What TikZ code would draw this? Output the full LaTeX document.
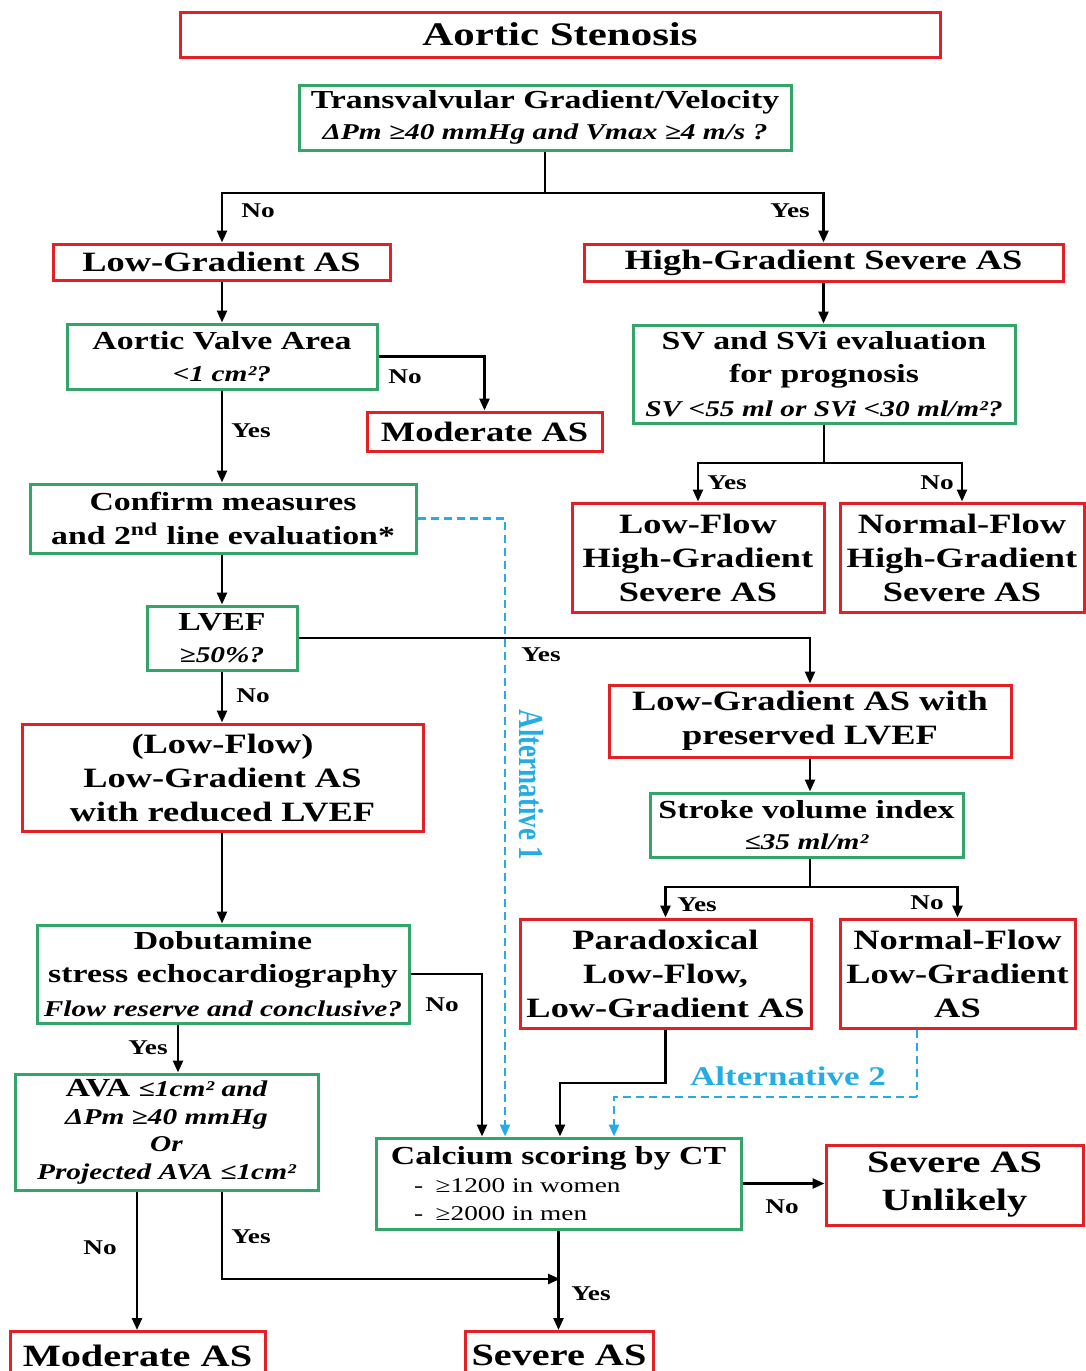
\documentclass[tikz,border=0pt]{standalone}
\usepackage{fontspec}
\setmainfont[FakeStretch=1.3]{Liberation Serif}
\newfontfamily\plainserif{Liberation Serif}
\usetikzlibrary{arrows.meta}
\definecolor{myred}{RGB}{228,32,38}
\definecolor{mygreen}{RGB}{52,165,105}
\definecolor{myblue}{RGB}{38,172,228}
\newcommand\titlef{\fontsize{16.5}{19}\selectfont\bfseries}
\newcommand\mainf{\fontsize{13}{16.8}\selectfont\bfseries}
\newcommand\redf{\fontsize{14}{17}\selectfont\bfseries}
\newcommand\bigf{\fontsize{15.5}{19}\selectfont\bfseries}
\newcommand\subf{\fontsize{11.3}{15}\selectfont\bfseries\itshape}
\newcommand\labf{\fontsize{10.5}{12}\selectfont\bfseries}
\newcommand\listf{\fontsize{10.5}{12.5}\selectfont\mdseries}
\tikzset{
  basebox/.style={draw, line width=1.5pt, align=center, inner sep=1pt, font=\mainf, text=black},
  rbox/.style={basebox, draw=myred, font=\redf},
  gbox/.style={basebox, draw=mygreen},
  ln/.style={line width=1.25pt, draw=black},
  arr/.style={ln, -{Triangle[length=6pt,width=5pt]}},
  altline/.style={line width=1.25pt, draw=myblue, dash pattern=on 4pt off 2.5pt},
  altarr/.style={altline, -{Triangle[length=6pt,width=5pt]}},
  lab/.style={font=\labf, inner sep=0pt},
  alttext/.style={font=\fontsize{13.5}{15}\selectfont\bfseries, text=myblue, inner sep=0pt}
}
\begin{document}
\begin{tikzpicture}[x=0.5pt,y=-0.5pt]
\useasboundingbox (0,0) rectangle (1086,1371);
\clip (0,0) rectangle (1086,1371);

% nodes
\node[rbox, minimum width=380pt, minimum height=22.5pt, font=\titlef] (title) at (560,34.5) {Aortic Stenosis};
\node[gbox, minimum width=246pt, minimum height=32.5pt] (tv) at (545,117.5) {Transvalvular Gradient/Velocity\\[-1pt]{\subf ΔPm ≥40 mmHg and Vmax ≥4 m/s ?}};
\node[rbox, minimum width=168.5pt, minimum height=18pt] (lg) at (221.5,262) {Low-Gradient AS};
\node[rbox, minimum width=239.5pt, minimum height=18.5pt] (hg) at (823.5,262.5) {High-Gradient Severe AS};
\node[gbox, minimum width=155pt, minimum height=32.5pt] (ava) at (222,356.5) {Aortic Valve Area\\[-1pt]{\subf <1 cm²?}};
\node[rbox, minimum width=117.5pt, minimum height=19.5pt] (mod1) at (484.5,431.5) {Moderate AS};
\node[gbox, minimum width=191pt, minimum height=49pt] (sv) at (824,374) {SV and SVi evaluation\\for prognosis\\{\subf SV <55 ml or SVi <30 ml/m²?}};
\node[gbox, minimum width=193pt, minimum height=34.5pt] (conf) at (223,518.5) {Confirm measures\\and 2\textsuperscript{nd} line evaluation*};
\node[rbox, minimum width=126pt, minimum height=54.5pt] (lfhg) at (698,557.5) {Low-Flow\\High-Gradient\\Severe AS};
\node[rbox, minimum width=122pt, minimum height=54.5pt] (nfhg) at (962,557.5) {Normal-Flow\\High-Gradient\\Severe AS};
\node[gbox, minimum width=75pt, minimum height=32pt] (lvef) at (222,638) {LVEF\\[-1pt]{\subf ≥50\%?}};
\node[rbox, minimum width=201pt, minimum height=36pt] (lgp) at (810,721) {Low-Gradient AS with\\preserved LVEF};
\node[rbox, minimum width=200.5pt, minimum height=53.5pt] (lfr) at (222.5,777.5) {(Low-Flow)\\Low-Gradient AS\\with reduced LVEF};
\node[gbox, minimum width=156.5pt, minimum height=32pt] (svi) at (806.5,825) {Stroke volume index\\[-1pt]{\subf ≤35 ml/m²}};
\node[gbox, minimum width=186pt, minimum height=49pt] (dob) at (223,974) {Dobutamine\\stress echocardiography\\{\subf Flow reserve and conclusive?}};
\node[rbox, minimum width=145.5pt, minimum height=54.5pt] (para) at (665.5,973.5) {Paradoxical\\Low-Flow,\\Low-Gradient AS};
\node[rbox, minimum width=117.5pt, minimum height=54.5pt] (nflg) at (957.5,973.5) {Normal-Flow\\Low-Gradient\\AS};
\node[gbox, minimum width=151.5pt, minimum height=58pt] (avab) at (166.5,1132) {AVA {\subf ≤1cm² and}\\[-3pt]{\subf ΔPm ≥40 mmHg}\\[-3pt]{\subf Or}\\[-3pt]{\subf Projected AVA ≤1cm²}};
\node[gbox, minimum width=182.5pt, minimum height=45.5pt, align=left] (calc) at (558.5,1183.5) {Calcium scoring by CT\\[-3pt]{\listf\hspace{1.1em}-\hspace{0.6em}≥1200 in women}\\[-3pt]{\listf\hspace{1.1em}-\hspace{0.6em}≥2000 in men}};
\node[rbox, minimum width=128.5pt, minimum height=40pt, font=\bigf] (unl) at (954.5,1185) {Severe AS\\Unlikely};
\node[rbox, minimum width=127.5pt, minimum height=24pt, anchor=north, font=\bigf] (modb) at (137.5,1330) {Moderate AS};
\node[rbox, minimum width=94pt, minimum height=24pt, anchor=north, font=\bigf] (sev) at (559,1330) {Severe AS};

% connectors
\coordinate (j1) at (545,193);
\draw[ln] (tv.south) -- (j1);
\draw[arr] (j1) -| ([xshift=0.25pt]lg.north);
\draw[arr] (j1) -| (hg.north);
\draw[arr] ([xshift=0.25pt]lg.south) -- (ava.north);
\draw[arr] (ava.east) -| (mod1.north);
\draw[arr] (ava.south) -- (ava.south |- conf.north);
\draw[arr] (ava.south |- conf.south) -- (lvef.north);
\draw[arr] (lvef.east) -| (lgp.north);
\draw[arr] (lvef.south) -- (lvef.south |- lfr.north);
\draw[arr] (lvef.south |- lfr.south) -- (lvef.south |- dob.north);
\draw[arr] (dob.east) -| ([xshift=-38.25pt]calc.north);
\draw[arr] ([xshift=-22.5pt]dob.south) -- ([xshift=-22.5pt]dob.south |- avab.north);
\draw[arr] ([xshift=-14.75pt]avab.south) -- ([xshift=-14.75pt]avab.south |- modb.north);
\coordinate (jn) at (560,1279);
\draw[arr] ([xshift=27.75pt]avab.south) |- (jn);
\draw[arr] (calc.south) -- (calc.south |- sev.north);
\draw[arr] (calc.east) -- (calc.east -| unl.west);
\coordinate (jp) at (665.5,1083);
\draw[arr] (para.south) -- (jp) -| ([xshift=0.75pt]calc.north);
\draw[arr] (hg.south) -- (hg.south |- sv.north);
\coordinate (j2) at (824,463);
\draw[ln] (sv.south) -- (j2);
\draw[arr] (j2) -| (lfhg.north);
\draw[arr] (j2) -| (nfhg.north);
\draw[arr] (lgp.south) -- (lgp.south |- svi.north);
\coordinate (j3) at (810,887);
\draw[ln] (lgp.south |- svi.south) -- (j3);
\draw[arr] (j3) -| (para.north);
\draw[arr] (j3) -| (nflg.north);
% alternatives
\draw[altarr] (conf.east) -| ([xshift=-26.75pt]calc.north);
\coordinate (ja2) at (917,1097);
\draw[altline] ([xshift=-20.25pt]nflg.south) -- (ja2);
\draw[altarr] (ja2) -| ([xshift=27.75pt]calc.north);

% labels
\node[lab] (l1) at (258,211) {No};
\node[lab] (l2) at (790,211) {Yes};
\node[lab] (l3) at (405,377) {No};
\node[lab] (l4) at (251,431) {Yes};
\node[lab] (l5) at (727,483) {Yes};
\node[lab] (l6) at (937,483) {No};
\node[lab] (l7) at (541,655) {Yes};
\node[lab] (l8) at (253,696) {No};
\node[lab] (l9) at (697,905) {Yes};
\node[lab] (l10) at (927,903) {No};
\node[lab] (l11) at (442,1005) {No};
\node[lab] (l12) at (148,1048) {Yes};
\node[lab] (l13) at (100,1248) {No};
\node[lab] (l14) at (251,1237) {Yes};
\node[lab] (l15) at (782,1207) {No};
\node[lab] (l16) at (591,1294) {Yes};
\node[alttext, rotate=-90] (a1) at (531,785) {\scalebox{1}[1.3]{\plainserif\bfseries Alternative 1}};
\node[alttext] (a2) at (788,1076) {Alternative 2};
\end{tikzpicture}
\end{document}
